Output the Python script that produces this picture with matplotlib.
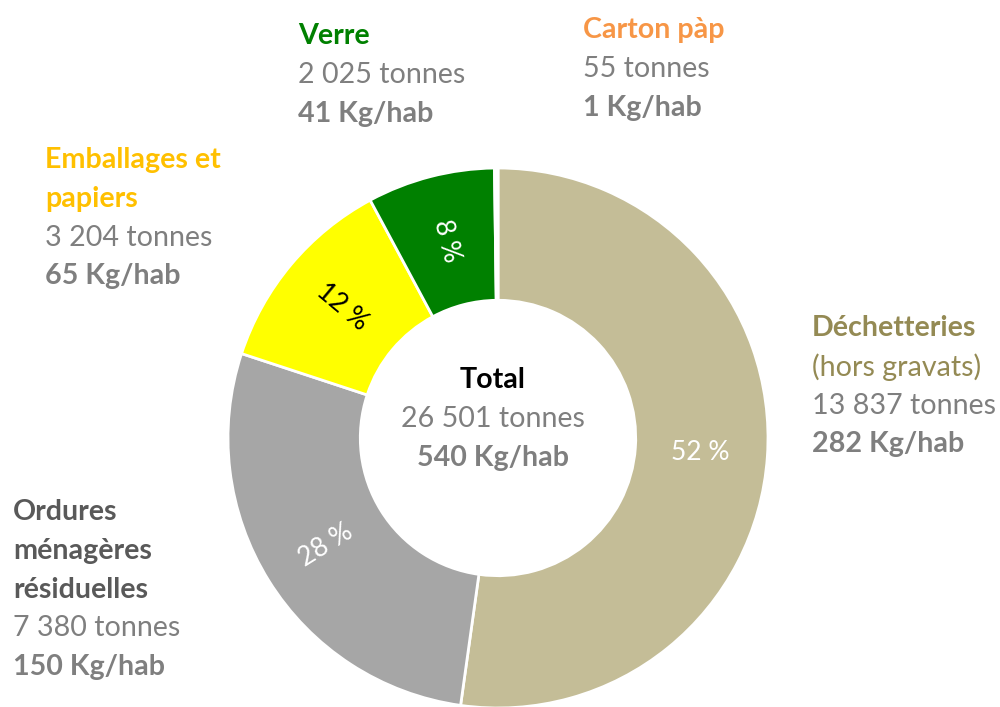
import matplotlib
matplotlib.use("Agg")
import matplotlib.pyplot as plt

# ---- data ----
categories = ["Déchetteries", "Ordures ménagères résiduelles", "Emballages et papiers", "Verre", "Carton pàp"]
tonnes = [13837, 7380, 3204, 2025, 55]
kg_hab = [282, 150, 65, 41, 1]
total_tonnes = 26501
total_kg = 540

wedge_colors = ["#C4BD97", "#A6A6A6", "#FFFF00", "#008000", "#FFFFFF"]
pct_colors = ["white", "white", "black", "white", "white"]

FONT = ["Lato", "DejaVu Sans"]
plt.rcParams["font.family"] = FONT

W, H = 1000, 707
fig = plt.figure(figsize=(10, 7.07), dpi=100)
ax = fig.add_axes([0, 0, 1, 1])
ax.set_xlim(0, W)
ax.set_ylim(0, H)
ax.axis("off")

cx, cy, R = 498, H - 438, 270


def fmt(p):
    return "" if round(p) < 1 else f"{round(p):.0f} %"


wedges, _, autotexts = ax.pie(
    tonnes, colors=wedge_colors, startangle=90, counterclock=False,
    center=(cx, cy), radius=R, autopct=fmt, pctdistance=0.752,
    wedgeprops=dict(width=R * 0.49, edgecolor="white", linewidth=2),
    textprops=dict(fontsize=19), frame=True)
ax.set_xlim(0, W)
ax.set_ylim(0, H)
ax.axis("off")

for w, t, c in zip(wedges, autotexts, pct_colors):
    mid = (w.theta1 + w.theta2) / 2.0
    rot = mid - 180
    while rot <= -90:
        rot += 180
    while rot > 90:
        rot -= 180
    if abs(rot) < 8:
        rot = 0
    t.set_rotation(rot)
    t.set_color(c)
    t.set_rotation_mode("anchor")
    t.set_ha("center")
    t.set_va("center")

GRAY = "#7F7F7F"
FS = 20.6


def lines(x, ys, items, ha="left"):
    for y, (txt, color, bold) in zip(ys, items):
        ax.text(x, H - y, txt, ha=ha, va="center", fontsize=FS, color=color,
                fontweight="bold" if bold else "normal")


def num(v):
    return f"{v:,}".replace(",", " ")


lh = 38.8
# Verre
lines(298, [36 + i * lh for i in range(3)], [
    ("Verre", "#008000", True),
    (f"{num(tonnes[3])} tonnes", GRAY, False),
    (f"{kg_hab[3]} Kg/hab", GRAY, True)])
# Carton
lines(583, [30 + i * lh for i in range(3)], [
    ("Carton pàp", "#F79646", True),
    (f"{num(tonnes[4])} tonnes", GRAY, False),
    (f"{kg_hab[4]} Kg/hab", GRAY, True)])
# Emballages
lines(45, [160 + i * lh for i in range(4)], [
    ("Emballages et", "#FFC000", True),
    ("papiers", "#FFC000", True),
    (f"{num(tonnes[2])} tonnes", GRAY, False),
    (f"{kg_hab[2]} Kg/hab", GRAY, True)])
# Dechetteries
lines(812, [328 + i * lh for i in range(4)], [
    ("Déchetteries", "#948A54", True),
    ("(hors gravats)", "#948A54", False),
    (f"{num(tonnes[0])} tonnes", GRAY, False),
    (f"{kg_hab[0]} Kg/hab", GRAY, True)])
# Ordures
lines(13, [512 + i * lh for i in range(5)], [
    ("Ordures", "#595959", True),
    ("ménagères", "#595959", True),
    ("résiduelles", "#595959", True),
    (f"{num(tonnes[1])} tonnes", GRAY, False),
    (f"{kg_hab[1]} Kg/hab", GRAY, True)])
# Total
lines(493, [380 + i * lh for i in range(3)], [
    ("Total", "black", True),
    (f"{num(total_tonnes)} tonnes", GRAY, False),
    (f"{total_kg} Kg/hab", GRAY, True)], ha="center")

fig.savefig("out.png", dpi=100)
